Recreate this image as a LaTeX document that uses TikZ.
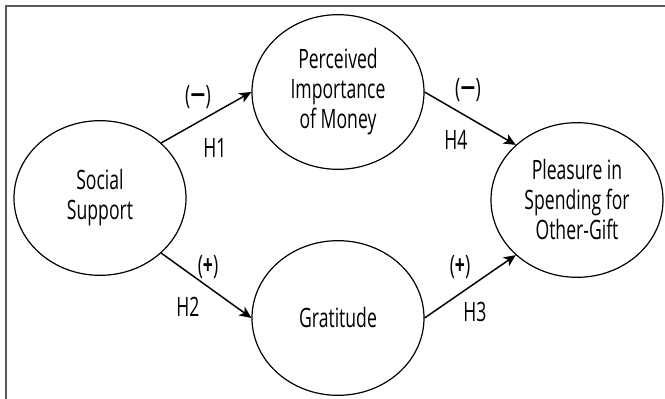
\documentclass[tikz,border=0pt]{standalone}
\usepackage{fontspec}
\setmainfont{Open Sans}[FakeStretch=0.66]
\newfontfamily\widefont{Open Sans}[FakeStretch=1]
\usetikzlibrary{arrows.meta, positioning, shapes.geometric}
\tikzset{>={Stealth[length=9pt, width=8pt, inset=2.5pt]}}

\begin{document}
\begin{tikzpicture}[x=0.75pt, y=-0.75pt,
  construct/.style={ellipse, draw=black, line width=0.9pt, minimum width=129pt, minimum height=116pt, inner sep=0pt, align=center, font=\fontsize{20}{22.5}\selectfont},
  hyp/.style={->, line width=1.1pt},
  lbl/.style={inner sep=0pt, font=\fontsize{20}{22.5}\selectfont},
  frame/.style={draw=black!65, line width=0.9pt}]
    \useasboundingbox (0,0) rectangle (665,399);
    \draw[frame] (6,399) -- (6,6) -- (665,6);

    \node[construct] (social) at (100,198) {Social\\Support};
    \node[construct] (money) at (338,92) {Perceived\\Importance\\of Money};
    \node[construct] (gratitude) at (338,318) {Gratitude};
    \node[construct] (pleasure) at (577,200) {Pleasure in\\Spending for\\Other-Gift};

    \draw[hyp] (social.north east) -- (money.west);
    \draw[hyp] (social.south east) -- (gratitude.west);
    \draw[hyp] (money.east) -- (pleasure.north west);
    \draw[hyp] (gratitude.east) -- (pleasure.south west);

    % signs and hypothesis labels
    \node[lbl] (s1) at (198,97) {({\widefont\bfseries −})};
    \node[lbl] (h1) at (215,148) {H1};
    \node[lbl] (s2) at (208,267) {(\textbf{+})};
    \node[lbl] (h2) at (188,307) {H2};
    \node[lbl] (s4) at (468,90) {({\widefont\bfseries −})};
    \node[lbl] (h4) at (456,140) {H4};
    \node[lbl] (s3) at (460,267) {(\textbf{+})};
    \node[lbl] (h3) at (475,312) {H3};
\end{tikzpicture}
\end{document}
